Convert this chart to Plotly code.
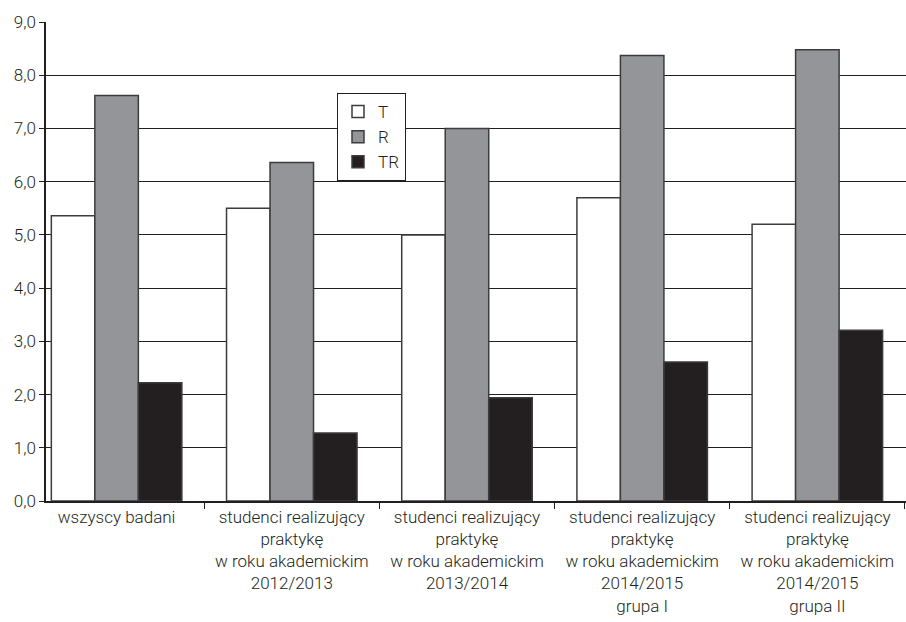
import plotly.graph_objects as go

categories = [
    "wszyscy badani",
    "studenci realizujący<br>praktykę<br>w roku akademickim<br>2012/2013",
    "studenci realizujący<br>praktykę<br>w roku akademickim<br>2013/2014",
    "studenci realizujący<br>praktykę<br>w roku akademickim<br>2014/2015<br>grupa I",
    "studenci realizujący<br>praktykę<br>w roku akademickim<br>2014/2015<br>grupa II",
]
series_names = ["T", "R", "TR"]
values_T = [5.36, 5.50, 5.00, 5.70, 5.20]
values_R = [7.62, 6.36, 7.00, 8.37, 8.48]
values_TR = [2.22, 1.28, 1.94, 2.61, 3.21]
colors = ["#ffffff", "#939598", "#231f20"]
ytick_vals = [0, 1, 2, 3, 4, 5, 6, 7, 8, 9]

FONT = "Roboto"
TXT = "#231f20"


def fnt(size=17):
    return dict(family=FONT, size=size, color=TXT, weight=300)


fig = go.Figure()
for name, vals, col in zip(series_names, [values_T, values_R, values_TR], colors):
    fig.add_trace(go.Bar(
        name=name, x=categories, y=vals,
        marker=dict(color=col, line=dict(color="#3c3c3c", width=1.5)),
    ))

fig.update_layout(
    width=906, height=622,
    margin=dict(l=46, r=0, t=22, b=121),
    paper_bgcolor="white", plot_bgcolor="white",
    barmode="group", bargap=0.255, bargroupgap=0,
    separators=",.",
    font=fnt(),
    showlegend=True,
    legend=dict(
        x=(337 - 46) / 860, y=1 - (93 - 22) / (501 - 22),
        xanchor="left", yanchor="top",
        bgcolor="white", bordercolor="#231f20", borderwidth=1,
        font=fnt(17),
        itemwidth=30, tracegroupgap=0,
    ),
)
fig.update_xaxes(
    type="category", range=[-0.403, 4.506],
    showline=True, linecolor="#231f20", linewidth=1.5,
    ticks="outside", tickson="boundaries", ticklen=6, tickcolor="#231f20",
    showgrid=False, tickfont=fnt(17),
)
fig.update_yaxes(
    range=[0, 9], tickvals=ytick_vals, tickformat=".1f",
    showline=True, linecolor="#231f20", linewidth=1.5,
    ticks="outside", ticklen=5, tickcolor="#231f20",
    showgrid=True, gridcolor="#231f20", gridwidth=1.2,
    zeroline=False, tickfont=fnt(17),
)

fig.write_html(
    "out.html",
    config={"displayModeBar": False},
    post_script="document.body.style.margin='0';document.body.style.overflow='hidden';",
)
